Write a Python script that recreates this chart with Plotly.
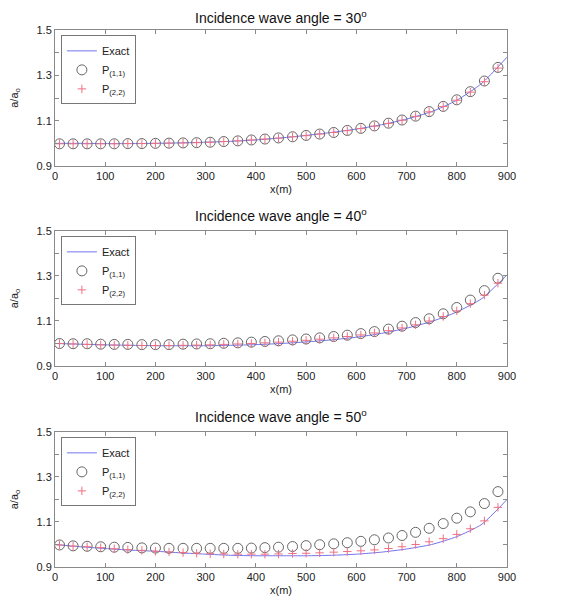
import plotly.graph_objects as go

# ---------------- data ----------------
x_pts = [9, 36, 64, 91, 118, 145, 173, 200, 227, 255, 282, 309, 336, 364, 391, 418,
         445, 473, 500, 527, 555, 582, 609, 636, 664, 691, 718, 745, 773, 800, 827, 855, 882]
x_exact = [0, 50, 100, 150, 200, 250, 300, 350, 400, 450, 500, 550, 600, 650, 700, 750, 800, 850, 900]

angles = ["30", "40", "50"]

exact_30 = [1.0, 1.0, 0.999, 0.999, 1.0, 1.002, 1.005, 1.009, 1.015, 1.024, 1.035, 1.048, 1.063,
            1.082, 1.107, 1.14, 1.19, 1.265, 1.38]
p11_30 = [0.998, 0.998, 0.998, 0.998, 0.998, 0.999, 0.999, 1.0, 1.001, 1.002, 1.003, 1.005, 1.008,
          1.011, 1.015, 1.019, 1.024, 1.029, 1.035, 1.041, 1.048, 1.057, 1.066, 1.077, 1.089, 1.103,
          1.12, 1.14, 1.163, 1.192, 1.228, 1.275, 1.335]
p22_30 = [0.998, 0.998, 0.998, 0.998, 0.998, 0.999, 0.999, 1.0, 1.001, 1.002, 1.003, 1.005, 1.008,
          1.011, 1.015, 1.019, 1.023, 1.029, 1.034, 1.041, 1.048, 1.056, 1.065, 1.076, 1.088, 1.102,
          1.119, 1.139, 1.162, 1.19, 1.226, 1.272, 1.332]

exact_40 = [1.0, 0.997, 0.994, 0.992, 0.99, 0.99, 0.99, 0.992, 0.995, 1.0, 1.007, 1.016, 1.028,
            1.045, 1.068, 1.098, 1.14, 1.2, 1.305]
p11_40 = [1.0, 0.999, 0.999, 0.997, 0.996, 0.996, 0.995, 0.995, 0.995, 0.997, 0.998, 0.999, 1.001,
          1.003, 1.006, 1.009, 1.012, 1.016, 1.02, 1.025, 1.031, 1.037, 1.044, 1.053, 1.064, 1.077,
          1.093, 1.11, 1.132, 1.16, 1.193, 1.235, 1.29]
p22_40 = [1.0, 0.998, 0.996, 0.994, 0.993, 0.992, 0.991, 0.991, 0.991, 0.992, 0.993, 0.994, 0.996,
          0.998, 1.0, 1.003, 1.006, 1.01, 1.014, 1.019, 1.025, 1.031, 1.038, 1.047, 1.057, 1.069,
          1.083, 1.1, 1.12, 1.145, 1.177, 1.215, 1.268]

exact_50 = [1.0, 0.99, 0.982, 0.975, 0.97, 0.963, 0.957, 0.952, 0.95, 0.95, 0.95, 0.952, 0.957,
            0.966, 0.98, 1.0, 1.035, 1.09, 1.2]
p11_50 = [0.998, 0.994, 0.992, 0.99, 0.988, 0.987, 0.985, 0.984, 0.983, 0.983, 0.983, 0.983, 0.983,
          0.983, 0.984, 0.986, 0.988, 0.991, 0.995, 0.999, 1.003, 1.008, 1.014, 1.021, 1.029, 1.04,
          1.054, 1.072, 1.093, 1.117, 1.145, 1.182, 1.235]
p22_50 = [0.998, 0.993, 0.99, 0.986, 0.981, 0.977, 0.974, 0.97, 0.967, 0.964, 0.961, 0.959, 0.958,
          0.957, 0.957, 0.957, 0.958, 0.96, 0.961, 0.963, 0.966, 0.969, 0.972, 0.976, 0.982, 0.99,
          1.0, 1.012, 1.026, 1.045, 1.07, 1.105, 1.165]

panels = [(exact_30, p11_30, p22_30), (exact_40, p11_40, p22_40), (exact_50, p11_50, p22_50)]

x_ticks = [0, 100, 200, 300, 400, 500, 600, 700, 800, 900]
y_ticks = [0.9, 1.1, 1.3, 1.5]
y_ticklabels = ["0.9", "1.1", "1.3", "1.5"]

# ---------------- layout geometry ----------------
# the page body has an 8px margin, so the figure is drawn at (8, 8)
W, H = 555, 593
ml, mr, mt, mb = 47, 56, 22, 34
domains = [[0.7467, 1.0], [0.3743, 0.6257], [0.0, 0.2514]]
title_shift = [13, 16, 16]

FONT = "Liberation Sans, Arial, sans-serif"
LINE_C = "#7474f0"
CIRC_C = "#666666"
CROSS_C = "#f07080"
AX_C = "#8a8a8a"

fig = go.Figure()
layout = dict(
    width=W, height=H,
    margin=dict(l=ml, r=mr, t=mt, b=mb, autoexpand=False),
    paper_bgcolor="white", plot_bgcolor="white",
    font=dict(family=FONT, size=11, color="#222"),
    showlegend=True,
    annotations=[],
)

for i, (ex, p11, p22) in enumerate(panels):
    n = "" if i == 0 else str(i + 1)
    xa, ya = "x" + n, "y" + n
    lg = "legend" + n
    fig.add_trace(go.Scatter(x=x_exact, y=ex, mode="lines", name="Exact",
                             line=dict(color=LINE_C, width=1, shape="spline", smoothing=0.6),
                             xaxis=xa, yaxis=ya, legend=lg))
    fig.add_trace(go.Scatter(x=x_pts, y=p11, mode="markers", name="P<sub>(1,1)</sub>",
                             marker=dict(symbol="circle-open", size=10, color=CIRC_C,
                                         line=dict(width=1, color=CIRC_C)),
                             xaxis=xa, yaxis=ya, legend=lg))
    fig.add_trace(go.Scatter(x=x_pts, y=p22, mode="markers", name="P<sub>(2,2)</sub>",
                             marker=dict(symbol="cross-thin-open", size=6, color=CROSS_C,
                                         line=dict(width=1, color=CROSS_C)),
                             xaxis=xa, yaxis=ya, legend=lg))
    d = domains[i]
    layout["xaxis" + n] = dict(
        domain=[0, 1], anchor=ya, range=[0, 900], tickvals=x_ticks, automargin=False,
        ticks="inside", ticklen=4, tickcolor=AX_C, mirror="allticks",
        showline=True, linecolor=AX_C, linewidth=1, showgrid=False, zeroline=False,
        tickfont=dict(size=11, family=FONT, color="#222"),
        title=dict(text="x(m)", font=dict(size=11, family=FONT), standoff=4),
    )
    layout["yaxis" + n] = dict(
        domain=d, anchor=xa, range=[0.9, 1.5], tickvals=y_ticks, ticktext=y_ticklabels,
        automargin=False,
        ticks="inside", ticklen=4, tickcolor=AX_C, mirror="allticks",
        minor=dict(dtick=0.1, tick0=0.9, ticks="inside", ticklen=4, tickcolor=AX_C),
        showline=True, linecolor=AX_C, linewidth=1, showgrid=False, zeroline=False,
        tickfont=dict(size=11, family=FONT, color="#222"),
        title=dict(text="a/a<sub>o</sub>", font=dict(size=11, family=FONT), standoff=16),
    )
    layout[lg] = dict(
        x=0.013, y=d[1] - 0.01, xanchor="left", yanchor="top",
        bgcolor="white", bordercolor="#777", borderwidth=1,
        font=dict(size=11, family=FONT, color="#222"),
        tracegroupgap=0, itemwidth=30,
    )
    layout["annotations"].append(dict(
        text="Incidence wave angle = " + angles[i] + "<sup>o</sup>",
        x=0.5, xref="paper", y=d[1], yref="paper", yanchor="middle",
        yshift=title_shift[i], showarrow=False, font=dict(size=14, family=FONT, color="#111"),
    ))

fig.update_layout(**layout)
fig.write_html("out.html")
